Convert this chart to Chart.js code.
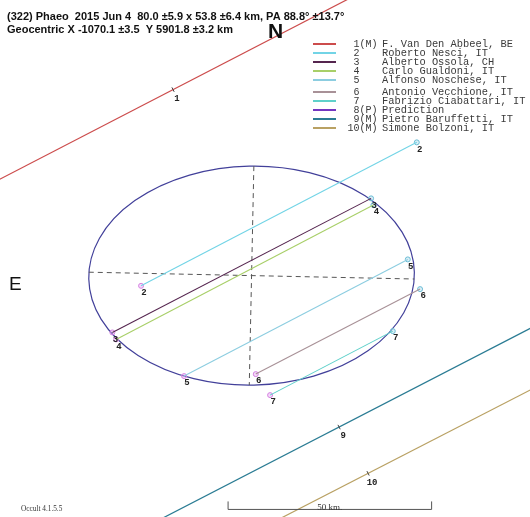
<!DOCTYPE html>
<html>
<head>
<meta charset="utf-8">
<script src="https://cdn.jsdelivr.net/npm/chart.js@4/dist/chart.umd.min.js"></script>
<style>
  html, body { margin: 0; padding: 0; background: #ffffff; }
  #wrap { width: 530px; height: 517px; }
</style>
</head>
<body>
<div id="wrap"><canvas id="c" width="530" height="517"></canvas></div>
<script>
// (322) Phaeo occultation of 2015 Jun 4 — sky-plane profile, km from the fitted centre.

// Fitted profile
const profileMajor = 80.0;   // km
const profileMinor = 53.8;   // km
const profilePA = 88.8;      // degrees

// Observers (legend)
const obsCodes = ['1(M)', '2', '3', '4', '5', '6', '7', '8(P)', '9(M)', '10(M)'];
const obsNames = [
  'F. Van Den Abbeel, BE', 'Roberto Nesci, IT', 'Alberto Ossola, CH', 'Carlo Gualdoni, IT',
  'Alfonso Noschese, IT', 'Antonio Vecchione, IT', 'Fabrizio Ciabattari, IT', 'Prediction',
  'Pietro Baruffetti, IT', 'Simone Bolzoni, IT'
];
const obsColors = [
  '#cc4c4c', '#72d4e6', '#55254f', '#a8cf68', '#8ccde0',
  '#a89197', '#5fd0ca', '#7436c0', '#2b7c94', '#b9a163'
];

// Positive chords (disappearance -> reappearance), km
const chordIds    = [2, 3, 4, 5, 6, 7];
const chordStartX = [-27.15, -34.20, -33.29, -16.58, 1.03, 4.55];
const chordStartY = [-2.51, -13.96, -15.68, -24.69, -24.20, -29.36];
const chordEndX   = [40.59, 29.36, 29.93, 38.38, 41.40, 34.69];
const chordEndY   = [32.73, 18.97, 17.32, 3.98, -3.32, -13.64];

// Miss tracks, km
const missIds   = [1, 9, 10];
const missX0    = [-80, -80, -80];
const missY0    = [14.30, -89.58, -104.40];
const missX1    = [80, 80, 80];
const missY1    = [97.02, -7.02, -22.18];
const missTickX = [-19.29, 21.50, 28.62];
const missTickY = [45.69, -37.21, -48.57];

// Plot window, km
const X_MIN = -61.8, X_MAX = 68.4, Y_MIN = -59.3, Y_MAX = 67.7;

// Scale bar
const scaleBarKm = 50;
const scaleBarX = -5.77, scaleBarY = -57.44;

const colorOf = id => obsColors[id - 1];

const datasets = [];
missIds.forEach((id, i) => {
  datasets.push({
    label: 'miss ' + id,
    data: [{ x: missX0[i], y: missY0[i] }, { x: missX1[i], y: missY1[i] }],
    showLine: true, borderColor: colorOf(id), borderWidth: 1.2,
    pointRadius: 0, pointHoverRadius: 0, fill: false
  });
});
chordIds.forEach((id, i) => {
  datasets.push({
    label: 'chord ' + id,
    data: [{ x: chordStartX[i], y: chordStartY[i] }, { x: chordEndX[i], y: chordEndY[i] }],
    showLine: true, borderColor: colorOf(id), borderWidth: 1.1,
    pointRadius: 0, pointHoverRadius: 0, fill: false
  });
});
datasets.push({
  label: 'disappearances',
  data: chordIds.map((id, i) => ({ x: chordStartX[i], y: chordStartY[i] })),
  showLine: false, pointRadius: 2.5, pointBorderWidth: 1,
  pointBorderColor: '#d583e2', pointBackgroundColor: 'rgba(230,160,240,0.4)'
});
datasets.push({
  label: 'reappearances',
  data: chordIds.map((id, i) => ({ x: chordEndX[i], y: chordEndY[i] })),
  showLine: false, pointRadius: 2.5, pointBorderWidth: 1,
  pointBorderColor: '#6cbcd4', pointBackgroundColor: 'rgba(160,215,235,0.4)'
});

// Profile ellipse with its dashed axes
const profilePlugin = {
  id: 'profile',
  beforeDatasetsDraw(chart) {
    const { ctx, scales: { x, y } } = chart;
    const cx = x.getPixelForValue(0), cy = y.getPixelForValue(0);
    const kx = Math.abs(x.getPixelForValue(1) - x.getPixelForValue(0));
    const ky = Math.abs(y.getPixelForValue(1) - y.getPixelForValue(0));
    const a = profileMajor / 2, b = profileMinor / 2;
    const p = profilePA * Math.PI / 180;
    // East is to the left, north is up
    const ux = -Math.sin(p), uy = Math.cos(p);          // major axis (km)
    const vx = Math.cos(p), vy = Math.sin(p);           // minor axis (km)
    const rot = Math.atan2(-uy * ky, -ux * kx);
    ctx.save();
    ctx.strokeStyle = '#42409a';
    ctx.lineWidth = 1.2;
    ctx.beginPath();
    ctx.ellipse(cx, cy, a * kx, b * ky, rot, 0, Math.PI * 2);
    ctx.stroke();
    ctx.strokeStyle = '#555555';
    ctx.lineWidth = 1;
    ctx.setLineDash([5, 4]);
    ctx.beginPath();
    ctx.moveTo(x.getPixelForValue(a * ux), y.getPixelForValue(a * uy));
    ctx.lineTo(x.getPixelForValue(-a * ux), y.getPixelForValue(-a * uy));
    ctx.moveTo(x.getPixelForValue(b * vx), y.getPixelForValue(b * vy));
    ctx.lineTo(x.getPixelForValue(-b * vx), y.getPixelForValue(-b * vy));
    ctx.stroke();
    ctx.restore();
  }
};

// Text, chord numbers, legend and scale bar
const annotationPlugin = {
  id: 'annotations',
  afterDatasetsDraw(chart) {
    const { ctx, scales: { x, y } } = chart;
    ctx.save();

    // chord numbers
    ctx.fillStyle = '#222222';
    ctx.font = 'bold 9px "Liberation Mono", monospace';
    ctx.textAlign = 'center';
    ctx.textBaseline = 'middle';
    chordIds.forEach((id, i) => {
      ctx.fillText(String(id), x.getPixelForValue(chordStartX[i]) + 3, y.getPixelForValue(chordStartY[i]) + 7);
      ctx.fillText(String(id), x.getPixelForValue(chordEndX[i]) + 3, y.getPixelForValue(chordEndY[i]) + 7);
    });

    // miss track ticks and numbers
    missIds.forEach((id, i) => {
      const px = x.getPixelForValue(missTickX[i]), py = y.getPixelForValue(missTickY[i]);
      const dx = x.getPixelForValue(missX1[i]) - x.getPixelForValue(missX0[i]);
      const dy = y.getPixelForValue(missY1[i]) - y.getPixelForValue(missY0[i]);
      const len = Math.hypot(dx, dy);
      const nx = -dy / len, ny = dx / len;
      ctx.strokeStyle = '#444444';
      ctx.lineWidth = 1;
      ctx.beginPath();
      ctx.moveTo(px - nx * 2.5, py - ny * 2.5);
      ctx.lineTo(px + nx * 2.5, py + ny * 2.5);
      ctx.stroke();
      ctx.fillStyle = '#222222';
      ctx.fillText(String(id), px + 4, py + 9);
    });

    // heading
    ctx.textAlign = 'left';
    ctx.textBaseline = 'alphabetic';
    ctx.fillStyle = '#111111';
    ctx.font = 'bold 11px "Liberation Sans", Arial, sans-serif';
    ctx.fillText('(322) Phaeo  2015 Jun 4  80.0 \u00b15.9 x 53.8 \u00b16.4 km, PA 88.8\u00b0 \u00b113.7\u00b0', 7, 19.5);
    ctx.fillText('Geocentric X -1070.1 \u00b13.5  Y 5901.8 \u00b13.2 km', 7, 33, 226);

    // compass
    ctx.font = 'bold 21px "Liberation Sans", Arial, sans-serif';
    ctx.fillText('N', 268, 38);
    ctx.font = '19px "Liberation Sans", Arial, sans-serif';
    ctx.fillText('E', 9, 290);

    // legend
    const rows = [44, 53, 62, 71, 80, 92, 101, 110, 119, 128];
    ctx.textBaseline = 'middle';
    obsCodes.forEach((code, i) => {
      const ry = rows[i];
      ctx.strokeStyle = obsColors[i];
      ctx.lineWidth = 2;
      ctx.beginPath();
      ctx.moveTo(313, ry);
      ctx.lineTo(336, ry);
      ctx.stroke();
      const m = code.match(/^(\d+)(.*)$/);
      ctx.fillStyle = '#3a3a3a';
      ctx.font = '10px "Liberation Mono", monospace';
      ctx.textAlign = 'right';
      ctx.fillText(m[1], 359.5, ry);
      ctx.textAlign = 'left';
      ctx.fillText(m[2], 359.5, ry);
      ctx.font = '10.4px "Liberation Mono", monospace';
      ctx.fillText(obsNames[i], 382, ry);
    });

    // scale bar
    const bx0 = x.getPixelForValue(scaleBarX), bx1 = x.getPixelForValue(scaleBarX + scaleBarKm);
    const by = y.getPixelForValue(scaleBarY);
    ctx.strokeStyle = '#555555';
    ctx.lineWidth = 1;
    ctx.beginPath();
    ctx.moveTo(bx0, by - 8);
    ctx.lineTo(bx0, by);
    ctx.lineTo(bx1, by);
    ctx.lineTo(bx1, by - 8);
    ctx.stroke();
    ctx.fillStyle = '#333333';
    ctx.font = '9px "Liberation Serif", serif';
    ctx.textAlign = 'center';
    ctx.textBaseline = 'alphabetic';
    ctx.fillText(scaleBarKm + ' km.', (bx0 + bx1) / 2, by + 1);

    ctx.textAlign = 'left';
    ctx.font = '7.3px "Liberation Serif", serif';
    ctx.fillText('Occult 4.1.5.5', 21, 511);
    ctx.restore();
  }
};

new Chart(document.getElementById('c'), {
  type: 'scatter',
  data: { datasets },
  options: {
    responsive: false,
    devicePixelRatio: 1,
    animation: false,
    layout: { padding: 0, autoPadding: false },
    plugins: { legend: { display: false }, tooltip: { enabled: false }, title: { display: false } },
    scales: {
      x: { type: 'linear', min: X_MIN, max: X_MAX, display: false },
      y: { type: 'linear', min: Y_MIN, max: Y_MAX, display: false }
    }
  },
  plugins: [profilePlugin, annotationPlugin]
});
</script>
</body>
</html>
